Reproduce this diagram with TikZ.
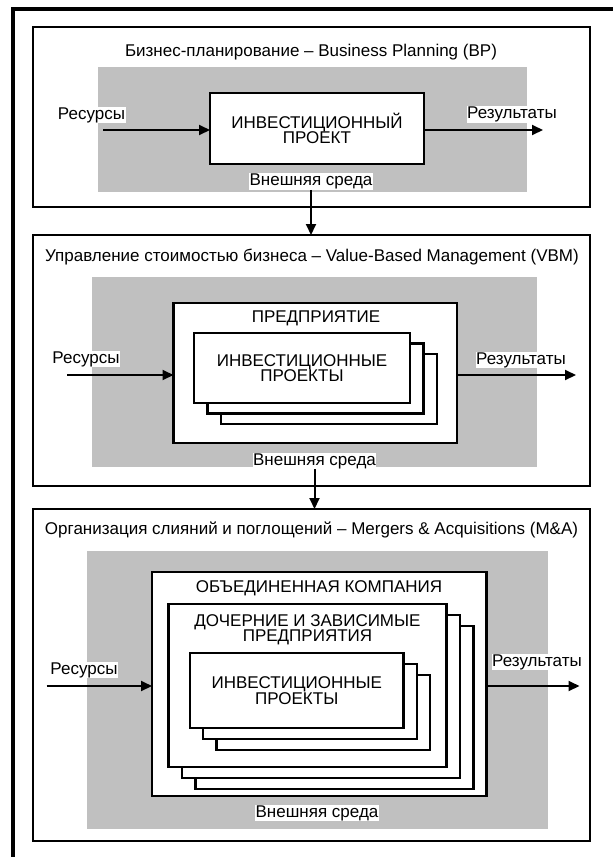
\documentclass[tikz,border=0pt]{standalone}
\usepackage{fontspec}
\setmainfont{Liberation Sans}
\usetikzlibrary{arrows.meta,fit}
\definecolor{envgray}{RGB}{192,192,192}
\tikzset{
  frame/.style={draw=black, line width=2.4pt, fill=white, inner sep=0pt, outer sep=0pt},
  env/.style={fill=envgray, inner sep=0pt, outer sep=0pt},
  lbl/.style={font=\fontsize{17}{15.5}\selectfont, inner sep=0.6pt, fill=white},
  txt/.style={font=\fontsize{17}{15.5}\selectfont, align=center, inner sep=0pt},
  flow/.style={line width=2pt, -{Triangle[length=11pt,width=10pt]}},
}
\begin{document}
\begin{tikzpicture}[x=1pt,y=-1pt]
\useasboundingbox (0,0) rectangle (613,857);
% page frame (top and left rules)
\draw[line width=4pt] (613,9) -- (13,9) -- (13,857);

% ---------- Business Planning ----------
\node[frame, fit={(33,27)(590,207)}] (bp) {};
\node[env, fit={(98,67)(527,192)}] (bpenv) {};
\node[frame, fit={(210,93)(424,164)}] (bpproj) {};
\node[txt] (bpprojtxt) at (bpproj) {ИНВЕСТИЦИОННЫЙ\\ПРОЕКТ};
\node[txt] (bptitle) at (311,52) {Бизнес-планирование – Business Planning (BP)};
\node[lbl] (bpin) at (91.5,115) {Ресурсы};
\node[lbl] (bpout) at (512,114.5) {Результаты};
\node[lbl] (bpext) at (311,181.5) {Внешняя среда};
\coordinate (bpsrc) at (103,130);
\coordinate (bpsink) at (543,130);
\draw[flow] (bpsrc) -- (bpsrc -| bpproj.west);
\draw[flow] (bpsrc -| bpproj.east) -- (bpsink);

% ---------- Value-Based Management ----------
\node[frame, fit={(33,235)(590,486)}] (vbm) {};
\node[env, fit={(92,277)(537,467)}] (vbmenv) {};
\node[frame, fit={(173.5,303)(457,443)}] (vbment) {};
\node[txt] (vbmenttxt) at (316,318) {ПРЕДПРИЯТИЕ};
\node[frame, fit={(221,354)(437,424)}] (vbmprojc) {};
\node[frame, fit={(207.5,343.5)(423.5,413.5)}] (vbmprojb) {};
\node[frame, fit={(194,333)(410,403)}] (vbmproja) {};
\node[txt] (vbmprojtxt) at (vbmproja) {ИНВЕСТИЦИОННЫЕ\\ПРОЕКТЫ};
\node[txt] (vbmtitle) at (312,257) {Управление стоимостью бизнеса – Value-Based Management (VBM)};
\node[lbl] (vbmin) at (86,359) {Ресурсы};
\node[lbl] (vbmout) at (521,360) {Результаты};
\node[lbl] (vbmext) at (314.5,461) {Внешняя среда};
\coordinate (vbmsrc) at (67,375);
\coordinate (vbmsink) at (576,375);
\draw[flow] (vbmsrc) -- (vbmsrc -| vbment.west);
\draw[flow] (vbmsrc -| vbment.east) -- (vbmsink);

% ---------- Mergers & Acquisitions ----------
\node[frame, fit={(33,509)(590,841)}] (ma) {};
\node[env, fit={(87,551)(548,829)}] (maenv) {};
\node[frame, fit={(152,572)(486.5,796)}] (macomp) {};
\node[txt] (macomptxt) at (319,588) {ОБЪЕДИНЕННАЯ КОМПАНИЯ};
\node[frame, fit={(195.5,626)(473.5,789)}] (masubc) {};
\node[frame, fit={(182,615)(460,778)}] (masubb) {};
\node[frame, fit={(168.5,604)(446.5,767)}] (masuba) {};
\node[txt] (masubtxt) at (307.5,629.5) {ДОЧЕРНИЕ И ЗАВИСИМЫЕ\\ПРЕДПРИЯТИЯ};
\node[frame, fit={(216.5,675)(430,750)}] (maprojc) {};
\node[frame, fit={(203,664)(417,739)}] (maprojb) {};
\node[frame, fit={(190,653)(403.5,728)}] (maproja) {};
\node[txt] (maprojtxt) at (maproja) {ИНВЕСТИЦИОННЫЕ\\ПРОЕКТЫ};
\node[txt] (matitle) at (311.5,530) {Организация слияний и поглощений – Mergers \& Acquisitions (M\&A)};
\node[lbl] (main) at (84,670) {Ресурсы};
\node[lbl] (maout) at (537,662) {Результаты};
\node[lbl] (maext) at (317,813) {Внешняя среда};
\coordinate (masrc) at (46.7,686);
\coordinate (masink) at (579.5,686);
\draw[flow] (masrc) -- (masrc -| macomp.west);
\draw[flow] (masrc -| macomp.east) -- (masink);

% ---------- links between levels ----------
\draw[flow] (bpext.south) -- (bpext.south |- vbm.north);
\draw[flow] (vbmext.south) -- (vbmext.south |- ma.north);
\end{tikzpicture}
\end{document}
